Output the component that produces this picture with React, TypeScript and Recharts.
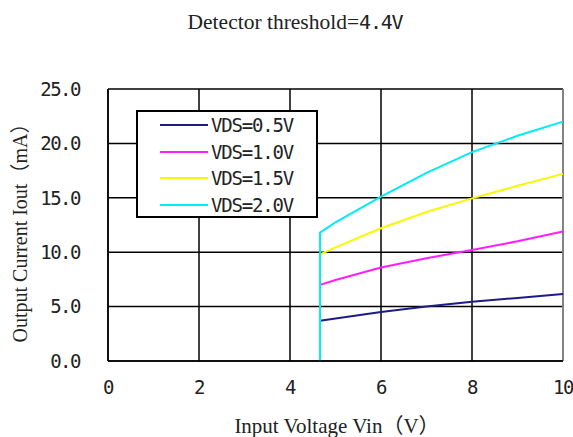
import { LineChart, Line, XAxis, YAxis, CartesianGrid, ReferenceLine } from 'recharts';

const X_TICKS = [0, 2, 4, 6, 8, 10];
const Y_TICKS = [0, 5, 10, 15, 20, 25];

// Vin (V) sample points for each curve
const VIN = [4.66, 5, 6, 7, 8, 9, 10];

// Iout (mA) per VDS
const VDS05 = [3.7, 3.9, 4.5, 5.0, 5.45, 5.8, 6.15];
const VDS10 = [7.0, 7.45, 8.6, 9.45, 10.2, 11.0, 11.9];
const VDS15 = [9.8, 10.45, 12.2, 13.7, 14.95, 16.1, 17.2];
const VDS20 = [11.8, 12.75, 15.1, 17.3, 19.2, 20.7, 22.0];

// cyan curve drops straight to zero at the threshold
const VDS20_EDGE = { x: 4.66, y: 0 };

const toPoints = (ys: number[]) => VIN.map((x, i) => ({ x, y: ys[i] }));

const SERIES = [
  { name: 'VDS=0.5V', color: '#1c1c84', data: toPoints(VDS05) },
  { name: 'VDS=1.0V', color: '#ff1cff', data: toPoints(VDS10) },
  { name: 'VDS=1.5V', color: '#f8f800', data: toPoints(VDS15) },
  { name: 'VDS=2.0V', color: '#00ecf4', data: [VDS20_EDGE, ...toPoints(VDS20)] },
];

const MONO = '"DejaVu Sans Mono", monospace';
const SERIF = '"Liberation Serif", "Noto Sans CJK SC", serif';
const tickStyle = { fontFamily: MONO, fontSize: 19, letterSpacing: -1.5, fill: '#222' };

function LegendBox() {
  return (
    <div style={{ position: 'absolute', left: 136, top: 110, width: 178, height: 104, border: '2px solid #000', background: '#fff' }}>
      {SERIES.map((s, i) => (
        <div key={s.name} style={{ position: 'absolute', left: 22, top: 1 + i * 26.7, height: 24, display: 'flex', alignItems: 'center' }}>
          <div style={{ width: 48, height: 2, background: s.color, marginRight: 3 }} />
          <span style={{ fontFamily: MONO, fontSize: 19, letterSpacing: -1.2, color: '#222' }}>{s.name}</span>
        </div>
      ))}
    </div>
  );
}

export default function App() {
  return (
    <div style={{ position: 'absolute', left: 0, top: 0, width: 573, height: 437, background: '#fff' }}>
      <div style={{ position: 'absolute', left: 0, width: 590, top: 10, textAlign: 'center', fontFamily: SERIF, fontSize: 21.5, color: '#222', whiteSpace: 'nowrap' }}>
        Detector threshold=<span style={{ fontFamily: MONO, fontSize: 20, letterSpacing: -1.2 }}>4.4V</span>
      </div>
      <LineChart width={573} height={437} margin={{ top: 89, right: 10, left: 0, bottom: 0 }}>
        <CartesianGrid stroke="#000" strokeWidth={1.5} horizontalValues={Y_TICKS} verticalValues={X_TICKS} />
        <XAxis
          type="number"
          dataKey="x"
          domain={[0, 10]}
          ticks={X_TICKS}
          height={76}
          tickLine={false}
          axisLine={{ stroke: '#000', strokeWidth: 1.5 }}
          tickMargin={14}
          tick={tickStyle}
          allowDuplicatedCategory={false}
        />
        <YAxis
          type="number"
          domain={[0, 25]}
          ticks={Y_TICKS}
          width={108}
          tickLine={false}
          axisLine={{ stroke: '#000', strokeWidth: 1.5 }}
          tickMargin={22}
          tickFormatter={(v: number) => v.toFixed(1)}
          tick={tickStyle}
        />
        <ReferenceLine x={10} stroke="#9a9a9a" strokeWidth={1.5} />
        {SERIES.map((s) => (
          <Line
            key={s.name}
            data={s.data}
            dataKey="y"
            name={s.name}
            type="linear"
            stroke={s.color}
            strokeWidth={2}
            dot={false}
            isAnimationActive={false}
          />
        ))}
      </LineChart>
      <LegendBox />
      <div style={{ position: 'absolute', left: 137, width: 400, top: 409, textAlign: 'center', fontFamily: SERIF, fontSize: 21, color: '#222', whiteSpace: 'nowrap' }}>
        Input Voltage Vin（V）
      </div>
      <div
        style={{
          position: 'absolute', left: 18, top: 228, width: 300,
          transform: 'translate(-50%, -50%) rotate(-90deg)',
          textAlign: 'center', fontFamily: SERIF, fontSize: 20, color: '#222', whiteSpace: 'nowrap',
        }}
      >
        Output Current Iout（mA）
      </div>
    </div>
  );
}
